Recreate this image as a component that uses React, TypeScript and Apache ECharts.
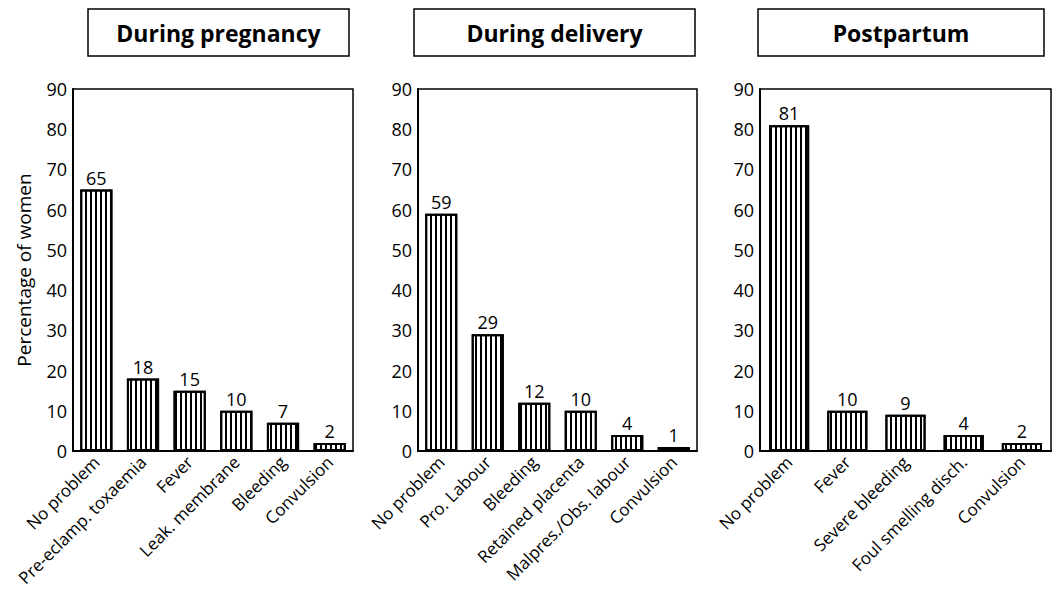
import React, { useEffect, useRef } from "react";
import * as echarts from "echarts";

const pregnancyCats = ["No problem", "Pre-eclamp. toxaemia", "Fever", "Leak. membrane", "Bleeding", "Convulsion"];
const pregnancyVals = [65, 18, 15, 10, 7, 2];
const deliveryCats = ["No problem", "Pro. Labour", "Bleeding", "Retained placenta", "Malpres./Obs. labour", "Convulsion"];
const deliveryVals = [59, 29, 12, 10, 4, 1];
const postpartumCats = ["No problem", "Fever", "Severe bleeding", "Foul smelling disch.", "Convulsion"];
const postpartumVals = [81, 10, 9, 4, 2];
const panelTitles = ["During pregnancy", "During delivery", "Postpartum"];
const yTitle = "Percentage of women";

const FONT = "'Open Sans', 'Noto Sans', sans-serif";

export default function App() {
  const ref = useRef<HTMLDivElement>(null);
  useEffect(() => {
    if (!ref.current) return;
    const chart = echarts.init(ref.current, null, { renderer: "svg" });
    const grids = [
      { left: 73, top: 89, width: 280, height: 362 },
      { left: 418, top: 89, width: 279, height: 362 },
      { left: 760, top: 89, width: 291, height: 362 },
    ];
    const cats = [pregnancyCats, deliveryCats, postpartumCats];
    const vals = [pregnancyVals, deliveryVals, postpartumVals];
    const boxes = [
      { x: 88, w: 261 },
      { x: 414, w: 281 },
      { x: 758, w: 286 },
    ];
    const option: any = {
      animation: false,
      backgroundColor: "#fff",
      textStyle: { fontFamily: FONT },
      grid: grids.map((g) => ({ ...g, show: true, borderColor: "#000", borderWidth: 1.5, backgroundColor: "transparent" })),
      xAxis: cats.map((c, i) => ({
        type: "category",
        gridIndex: i,
        data: c,
        axisLine: { lineStyle: { color: "#000", width: 2 } },
        axisTick: { show: false },
        axisLabel: { rotate: 45, interval: 0, fontSize: 17, color: "#000", margin: 8, fontFamily: FONT },
      })),
      yAxis: cats.map((_, i) => ({
        type: "value",
        gridIndex: i,
        min: 0,
        max: 90,
        interval: 10,
        name: i === 0 ? yTitle : "",
        nameLocation: "middle",
        nameGap: 40,
        nameTextStyle: { fontSize: 19, color: "#000", fontFamily: FONT },
        axisLine: { show: true, lineStyle: { color: "#000", width: 2 } },
        axisTick: { show: false },
        splitLine: { show: false },
        axisLabel: { fontSize: 18, color: "#000", margin: 6, fontFamily: FONT },
      })),
      series: vals.map((v, i) => ({
        type: "bar",
        xAxisIndex: i,
        yAxisIndex: i,
        data: v,
        barWidth: "69%",
        itemStyle: {
          color: "#fff",
          borderColor: "#000",
          borderWidth: 2,
          decal: {
            symbol: "rect",
            symbolSize: 1,
            dashArrayX: [1.5, 2.5],
            dashArrayY: [20, 0],
            rotation: 0,
            color: "#000",
            backgroundColor: "#fff",
          },
        },
        label: { show: true, position: "top", distance: 3, fontSize: 18, color: "#000", fontFamily: FONT },
      })),
      graphic: boxes.flatMap((b, i) => [
        {
          type: "rect",
          shape: { x: b.x, y: 9, width: b.w, height: 47 },
          style: { fill: "#fff", stroke: "#000", lineWidth: 1.5 },
        },
        {
          type: "text",
          x: b.x + b.w / 2,
          y: 33,
          style: {
            text: panelTitles[i],
            fontSize: 23,
            fontWeight: "bold",
            fontFamily: FONT,
            fill: "#000",
            align: "center",
            verticalAlign: "middle",
          },
        },
      ]),
    };
    chart.setOption(option);
    return () => chart.dispose();
  }, []);
  return <div ref={ref} style={{ position: "fixed", left: 0, top: 0, width: 1053, height: 603 }} />;
}
